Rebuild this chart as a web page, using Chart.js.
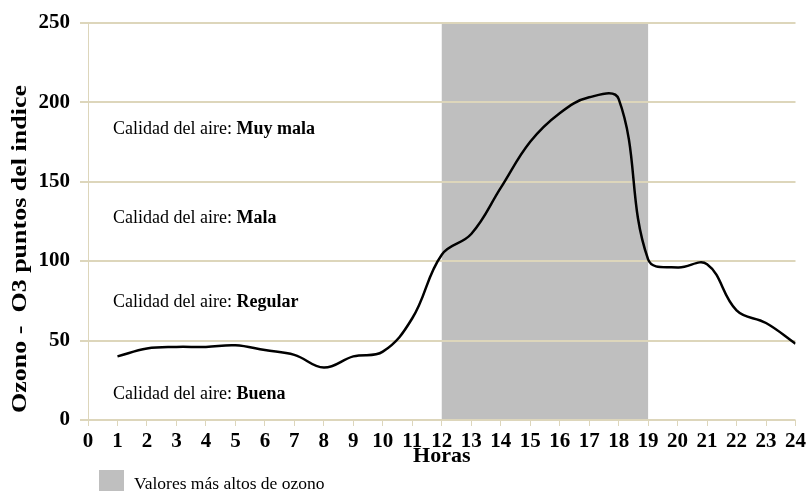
<!DOCTYPE html>
<html>
<head>
<meta charset="utf-8">
<script src="https://cdn.jsdelivr.net/npm/chart.js@4/dist/chart.umd.min.js"></script>
<style>
html,body{margin:0;padding:0;background:#fff;}
#wrap{width:809px;height:491px;position:relative;}
</style>
</head>
<body>
<div id="wrap"><canvas id="c" width="809" height="491"></canvas></div>
<script>
const hours = [1,2,3,4,5,6,7,8,9,10,11,12,13,14,15,16,17,18,19,20,21,22,23,24];
const ozone = [40,45,46,46,47,44,41,33,40,43,64,104,117,146,175,193,203,202,101,96,98,69,61,48];
const yTicks = [0,50,100,150,200,250];
const xTicks = [0,1,2,3,4,5,6,7,8,9,10,11,12,13,14,15,16,17,18,19,20,21,22,23,24];
const bandRange = [12,19];
const qualityLabels = ["Buena","Regular","Mala","Muy mala"];
const qualityLabelY = [16,74,127,183];
const legendText = "Valores más altos de ozono";
const yTitle = "Ozono -  O3 puntos del indice";
const xTitle = "Horas";

const GRID = 'rgb(221,214,187)';
const SERIF = '"Liberation Serif","Times New Roman",serif';

const bandPlugin = {
  id:'band',
  beforeDraw(chart){
    const {ctx, scales:{x,y}} = chart;
    const x0 = x.getPixelForValue(bandRange[0]);
    const x1 = x.getPixelForValue(bandRange[1]);
    const y0 = y.getPixelForValue(250);
    const y1 = y.getPixelForValue(0);
    ctx.save();
    ctx.fillStyle = 'rgb(191,191,191)';
    ctx.fillRect(x0, y0, x1-x0, y1-y0);
    ctx.restore();
  },
  afterDraw(chart){
    const {ctx, scales:{x,y}} = chart;
    ctx.save();
    ctx.textBaseline = 'middle';
    const lx = 113;
    qualityLabels.forEach((q,i)=>{
      const py = y.getPixelForValue(qualityLabelY[i]);
      ctx.font = '18px ' + SERIF;
      ctx.fillStyle = '#000';
      const pre = 'Calidad del aire: ';
      ctx.fillText(pre, lx, py);
      const w = ctx.measureText(pre).width;
      ctx.font = 'bold 18px ' + SERIF;
      ctx.fillText(q, lx + w, py);
    });
    // legend
    ctx.fillStyle = 'rgb(191,191,191)';
    ctx.fillRect(99, 470, 25, 21);
    ctx.fillStyle = '#000';
    ctx.font = '17.5px ' + SERIF;
    ctx.fillText(legendText, 134, 484);
    // y title
    ctx.font = 'bold 21px ' + SERIF;
    const tw = ctx.measureText(yTitle).width;
    const target = 328;
    ctx.translate(21, 249);
    ctx.rotate(-Math.PI/2);
    ctx.scale(target/tw, 1);
    ctx.textAlign = 'center';
    ctx.fillText(yTitle, 0, 0);
    ctx.restore();
  }
};

new Chart(document.getElementById('c'), {
  type:'line',
  data:{
    datasets:[{
      data: hours.map((h,i)=>({x:h, y:ozone[i]})),
      borderColor:'#000',
      borderWidth:2.5,
      pointRadius:0,
      tension:0.4,
      fill:false
    }]
  },
  options:{
    responsive:false,
    animation:false,
    events:[],
    layout:{padding:{top:21,right:12,left:0,bottom:0}},
    plugins:{legend:{display:false},tooltip:{enabled:false}},
    scales:{
      x:{
        type:'linear', min:0, max:24,
        afterBuildTicks(s){ s.ticks = xTicks.map(v=>({value:v})); },
        afterFit(s){ s.height = 71; },
        grid:{display:true, drawOnChartArea:false, drawTicks:true, tickLength:6, color:GRID, lineWidth:1},
        border:{display:true, color:GRID, width:1},
        ticks:{color:'#000', font:{family:SERIF, size:21, weight:'bold'}, padding:3, maxRotation:0, autoSkip:false},
        title:{display:true, text:xTitle, color:'#000', font:{family:SERIF, size:22, weight:'bold'}, padding:{top:0,bottom:21}}
      },
      y:{
        min:0, max:250,
        afterBuildTicks(s){ s.ticks = yTicks.map(v=>({value:v})); },
        afterFit(s){ s.width = 88; },
        grid:{color:GRID, lineWidth:2, tickLength:8, drawTicks:true},
        border:{display:true, color:GRID, width:1},
        ticks:{color:'#000', font:{family:SERIF, size:21, weight:'bold'}, padding:10},
        title:{display:false}
      }
    }
  },
  plugins:[bandPlugin]
});
</script>
</body>
</html>
